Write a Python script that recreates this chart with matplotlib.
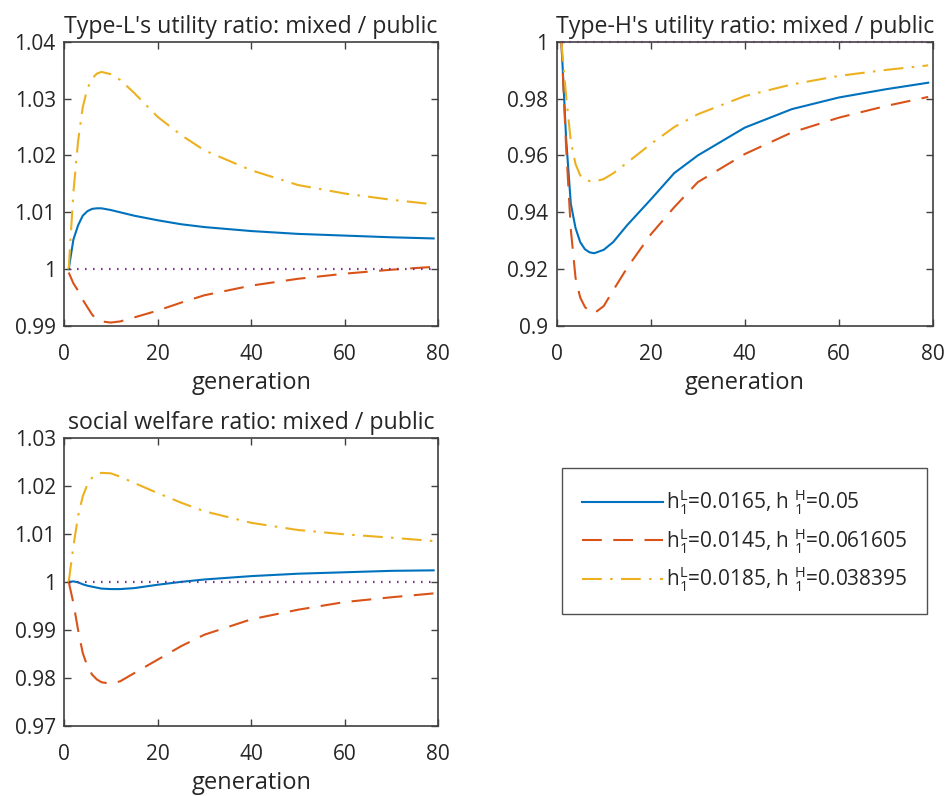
import matplotlib
matplotlib.use("Agg")
import matplotlib.pyplot as plt

plt.rcParams['font.family'] = ['Open Sans', 'DejaVu Sans']
plt.rcParams['mathtext.fontset'] = 'custom'
plt.rcParams['mathtext.rm'] = 'Open Sans'
plt.rcParams['mathtext.it'] = 'Open Sans'

# generations
gen = [1, 2, 3, 4, 5, 6, 7, 8, 10, 12, 15, 20, 25, 30, 40, 50, 60, 70, 79]

# Type-L utility ratio
L_blue = [1.0, 1.0052, 1.0077, 1.0094, 1.0102, 1.0106, 1.0107, 1.0107, 1.0104, 1.0100,
          1.0094, 1.0086, 1.0079, 1.0074, 1.0067, 1.0062, 1.0059, 1.0056, 1.0054]
L_red = [0.9994, 0.9975, 0.9962, 0.9946, 0.9933, 0.9920, 0.9911, 0.9908, 0.9906, 0.9908,
         0.9915, 0.9927, 0.9941, 0.9954, 0.9971, 0.9983, 0.9992, 0.9999, 1.0004]
L_orange = [1.0, 1.0135, 1.0225, 1.0285, 1.0318, 1.0335, 1.0344, 1.0347, 1.0343, 1.0333,
            1.0310, 1.0268, 1.0236, 1.0209, 1.0174, 1.0148, 1.0133, 1.0122, 1.0114]

# Type-H utility ratio
H_blue = [1.0, 0.966, 0.943, 0.9345, 0.9295, 0.927, 0.9259, 0.9256, 0.9268, 0.9295,
          0.9355, 0.9445, 0.9538, 0.9600, 0.9698, 0.9763, 0.9804, 0.9833, 0.9856]
H_red = [1.0, 0.963, 0.934, 0.917, 0.910, 0.9067, 0.905, 0.9045, 0.9070, 0.9125,
         0.9205, 0.9322, 0.9418, 0.9506, 0.9605, 0.9681, 0.9733, 0.9774, 0.9806]
H_orange = [1.0, 0.981, 0.965, 0.957, 0.953, 0.9515, 0.951, 0.9508, 0.9517, 0.9537,
            0.9575, 0.9640, 0.9700, 0.9745, 0.9809, 0.9850, 0.9880, 0.9901, 0.9917]

# social welfare ratio
W_blue = [1.0, 1.0001, 0.9999, 0.9995, 0.9992, 0.9990, 0.9988, 0.9986, 0.9985, 0.9985,
          0.9987, 0.9994, 1.0, 1.0005, 1.0012, 1.0017, 1.0020, 1.0023, 1.0024]
W_red = [1.0, 0.9956, 0.9900, 0.9852, 0.9824, 0.9807, 0.9797, 0.9791, 0.9788, 0.9793,
         0.9810, 0.9838, 0.9866, 0.9890, 0.9922, 0.9942, 0.9958, 0.9968, 0.9976]
W_orange = [1.0, 1.0074, 1.0137, 1.0178, 1.0203, 1.0217, 1.0224, 1.0227, 1.0226, 1.0219,
            1.0206, 1.0185, 1.0165, 1.0147, 1.0123, 1.0108, 1.0099, 1.0092, 1.0085]

labels = [r'h$^{\rm L}_{1}$=0.0165, h $^{\rm H}_{1}$=0.05',
          r'h$^{\rm L}_{1}$=0.0145, h $^{\rm H}_{1}$=0.061605',
          r'h$^{\rm L}_{1}$=0.0185, h $^{\rm H}_{1}$=0.038395']

titles = ["Type-L's utility ratio: mixed / public",
          "Type-H's utility ratio: mixed / public",
          "social welfare ratio: mixed / public"]

c_blue = '#0072BD'
c_red = '#D95319'
c_orange = '#EDB120'
c_purple = '#7E2F8E'
txt = '#262626'

fig = plt.figure(figsize=(9.5, 7.96), dpi=100)
ax1 = fig.add_axes([0.0674, 0.5905, 0.394, 0.357])
ax2 = fig.add_axes([0.586, 0.5905, 0.396, 0.357])
ax3 = fig.add_axes([0.0674, 0.088, 0.394, 0.362])

panels = [(ax1, L_blue, L_red, L_orange, (0.99, 1.04), [0.99, 1.0, 1.01, 1.02, 1.03, 1.04]),
          (ax2, H_blue, H_red, H_orange, (0.9, 1.0), [0.9, 0.92, 0.94, 0.96, 0.98, 1.0]),
          (ax3, W_blue, W_red, W_orange, (0.97, 1.03), [0.97, 0.98, 0.99, 1.0, 1.01, 1.02, 1.03])]

lines = []
for i, (ax, b, r, o, ylim, yt) in enumerate(panels):
    l1, = ax.plot(gen, b, color=c_blue, lw=1.5, ls='-')
    l2, = ax.plot(gen, r, color=c_red, lw=1.5, ls=(0, (9.5, 5.5)))
    l3, = ax.plot(gen, o, color=c_orange, lw=1.5, ls=(0, (9.5, 4, 1.2, 4)))
    ax.plot([gen[0], gen[-1]], [1, 1], color=c_purple, lw=1.6, ls=(0, (0.7, 2.9)),
            clip_on=False, zorder=3)
    lines = [l1, l2, l3]
    ax.set_xlim(0, 80)
    ax.set_ylim(*ylim)
    ax.set_xticks([0, 20, 40, 60, 80])
    ax.set_yticks(yt)
    ax.set_yticklabels(['%g' % v for v in yt])
    ax.tick_params(direction='in', top=True, right=True, length=5, width=1,
                   labelsize=15, colors='#404040', labelcolor=txt)
    ax.tick_params(axis='x', pad=13)
    ax.tick_params(axis='y', pad=6)
    for s in ax.spines.values():
        s.set_color('#404040')
        s.set_linewidth(1.2)
    ax.set_title(titles[i], fontsize=16.7, color=txt, pad=6.5)
    ax.set_xlabel('generation', fontsize=17, color=txt, labelpad=4)

leg = fig.legend(lines, labels, loc='upper left', bbox_to_anchor=(0.5913, 0.412),
                 fontsize=15, frameon=True, fancybox=False, edgecolor='#262626',
                 handlelength=3.9, labelspacing=0.42, borderpad=0.95, handletextpad=0.15,
                 borderaxespad=0, labelcolor=txt)
leg.get_frame().set_linewidth(1.0)

fig.savefig('out.png', dpi=100)
